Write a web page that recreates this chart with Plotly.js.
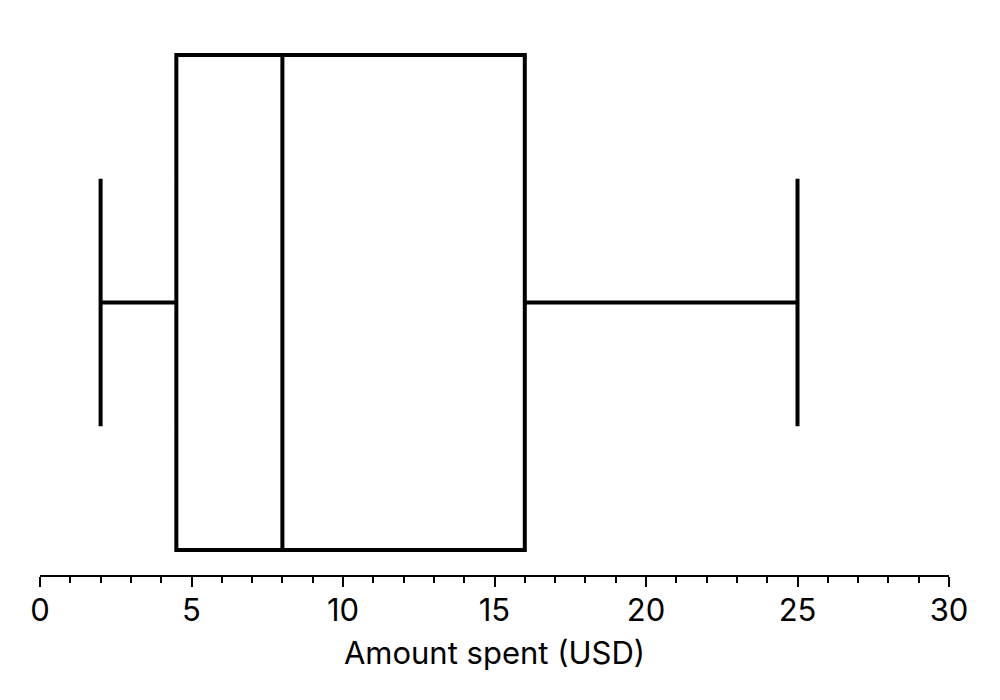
<!DOCTYPE html>
<html><head><meta charset="utf-8">
<script src="https://cdn.plot.ly/plotly-3.0.1.min.js"></script>
<style>html,body{margin:0;padding:0;background:#fff}#chart{width:1000px;height:700px}</style>
</head><body><div id="chart"></div>
<script>
const lowerFence = [2];
const q1 = [4.5];
const median = [8];
const q3 = [16];
const upperFence = [25];
const positions = [0];
const xTickVals = [0, 5, 10, 15, 20, 25, 30];
const xTickText = ['0', '5', '10', '15', '20', '25', '30'];

const trace = {
  type: 'box', orientation: 'h',
  y: positions, q1: q1, median: median, q3: q3,
  lowerfence: lowerFence, upperfence: upperFence,
  width: 1, whiskerwidth: 0.5,
  line: {color: '#000', width: 4},
  fillcolor: 'rgba(0,0,0,0)',
  boxpoints: false, hoverinfo: 'skip'
};
const layout = {
  width: 1000, height: 700,
  margin: {l: 40, r: 51, t: 30, b: 125},
  paper_bgcolor: '#fff', plot_bgcolor: '#fff',
  showlegend: false,
  font: {family: 'Inter, sans-serif', color: '#000', size: 31},
  xaxis: {
    range: [0, 30], tickvals: xTickVals, ticktext: xTickText,
    ticks: 'outside', ticklen: 10, tickwidth: 2, tickcolor: '#000',
    ticklabelstandoff: -3,
    minor: {dtick: 1, ticks: 'outside', ticklen: 6, tickwidth: 2, tickcolor: '#000', showgrid: false},
    showline: true, linecolor: '#000', linewidth: 2,
    showgrid: false, zeroline: false,
    tickfont: {size: 31, color: '#000'},
    title: {text: 'Amount spent (USD)', font: {size: 31, color: '#000'}, standoff: 15}
  },
  yaxis: {range: [-0.5505, 0.5505], visible: false, showgrid: false, zeroline: false}
};
Plotly.newPlot('chart', [trace], layout, {staticPlot: true});
</script></body></html>
